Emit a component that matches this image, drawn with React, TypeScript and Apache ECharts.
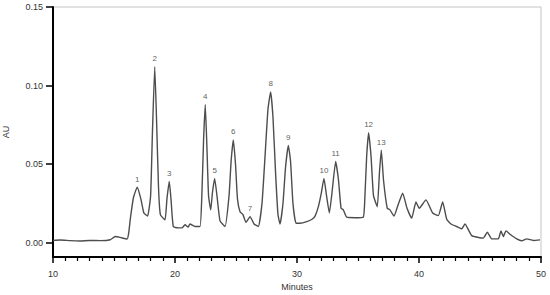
import React, { useEffect, useRef } from "react";
import * as echarts from "echarts";

// Retention time (minutes) and absorbance (AU) of the trace
const times: number[] = [
  10.0, 10.6, 11.4, 12.2, 13.0, 13.9, 14.7, 15.1, 15.5, 16.07, 16.2, 16.35, 16.6, 16.91, 17.2, 17.45, 17.75,
  18.0, 18.15, 18.34, 18.5, 18.65, 18.8, 19.18, 19.34, 19.53, 19.67, 19.86, 20.25, 20.57, 20.82, 21.07, 21.23,
  21.64, 22.05, 22.2, 22.34, 22.48, 22.62, 22.75, 22.93, 23.07, 23.25, 23.44, 23.69, 24.1, 24.43, 24.6, 24.78,
  24.96, 25.12, 25.33, 25.57, 25.82, 26.15, 26.48, 26.83, 27.13, 27.38, 27.62, 27.84, 28.03, 28.24, 28.44, 28.61,
  28.85, 29.06, 29.29, 29.47, 29.67, 29.92, 30.25, 30.8, 31.23, 31.48, 31.75, 32.0, 32.21, 32.42, 32.65, 32.87,
  33.17, 33.4, 33.61, 33.8, 34.07, 34.75, 35.43, 35.57, 35.71, 35.87, 36.07, 36.27, 36.58, 36.76, 36.91, 37.09,
  37.4, 37.62, 37.95, 38.28, 38.66, 39.02, 39.4, 39.75, 40.02, 40.57, 41.12, 41.58, 41.94, 42.27, 42.62, 43.09,
  43.5, 43.77, 44.32, 45.27, 45.6, 45.96, 46.5, 46.72, 46.91, 47.13, 47.46, 48.01, 48.42, 48.83, 49.37, 49.92,
];
const absorbance: number[] = [
  0.0015, 0.0018, 0.0014, 0.0012, 0.0015, 0.0014, 0.002, 0.004, 0.0035, 0.0024, 0.006, 0.016, 0.029, 0.0354, 0.028, 0.019, 0.017,
  0.03, 0.07, 0.112, 0.075, 0.035, 0.018, 0.0146, 0.028, 0.039, 0.028, 0.0104, 0.0095, 0.0095, 0.0115, 0.01, 0.012,
  0.0104, 0.0104, 0.03, 0.065, 0.088, 0.06, 0.03, 0.021, 0.032, 0.041, 0.03, 0.014, 0.0104, 0.03, 0.052, 0.0655,
  0.05, 0.028, 0.0198, 0.018, 0.013, 0.0167, 0.012, 0.0104, 0.025, 0.055, 0.085, 0.096, 0.08, 0.045, 0.018, 0.012,
  0.025, 0.048, 0.062, 0.052, 0.025, 0.0125, 0.0125, 0.0135, 0.015, 0.017, 0.023, 0.032, 0.041, 0.03, 0.019, 0.032,
  0.0517, 0.04, 0.022, 0.021, 0.0163, 0.016, 0.0163, 0.03, 0.055, 0.07, 0.055, 0.03, 0.023, 0.045, 0.059, 0.04,
  0.022, 0.021, 0.017, 0.024, 0.0316, 0.022, 0.0157, 0.026, 0.022, 0.0273, 0.019, 0.0173, 0.026, 0.015, 0.012, 0.0104,
  0.0089, 0.012, 0.0046, 0.003, 0.0068, 0.0025, 0.0025, 0.0076, 0.004, 0.0076, 0.0055, 0.0025, 0.0013, 0.0025, 0.0015, 0.0019,
];

// Numbered peaks
const peakNames: string[] = ["1", "2", "3", "4", "5", "6", "7", "8", "9", "10", "11", "12", "13"];
const peakTimes: number[] = [16.91, 18.34, 19.53, 22.48, 23.25, 24.78, 26.15, 27.84, 29.29, 32.21, 33.17, 35.87, 36.91];
const peakHeights: number[] = [0.0354, 0.112, 0.039, 0.088, 0.041, 0.0655, 0.0167, 0.096, 0.062, 0.041, 0.0517, 0.07, 0.059];

const yTickValues: number[] = [0, 0.05, 0.1, 0.15];

export default function App() {
  const ref = useRef<HTMLDivElement>(null);

  useEffect(() => {
    if (!ref.current) return;
    const chart = echarts.init(ref.current, null, { renderer: "svg" });
    const font = "Arial, 'Liberation Sans', sans-serif";
    chart.setOption({
      animation: false,
      backgroundColor: "#ffffff",
      grid: {
        left: 53,
        right: 9,
        top: 7,
        bottom: 38,
        outerBoundsMode: "none",
        containLabel: false,
        show: true,
        borderColor: "#c4c4c4",
        borderWidth: 1,
      },
      xAxis: {
        type: "value",
        min: 10,
        max: 50,
        interval: 10,
        name: "Minutes",
        nameLocation: "middle",
        nameGap: 25,
        nameTextStyle: { fontFamily: font, fontSize: 9, color: "#333" },
        axisLine: { show: true, onZero: false, lineStyle: { color: "#000", width: 2 } },
        axisTick: { show: true, length: 6, lineStyle: { color: "#000", width: 1.5 } },
        minorTick: { show: true, splitNumber: 10, length: 4, lineStyle: { color: "#000", width: 1.2 } },
        splitLine: { show: false },
        minorSplitLine: { show: false },
        axisLabel: { fontFamily: font, fontSize: 9, color: "#333", margin: 12 },
      },
      yAxis: {
        type: "value",
        min: -0.009,
        max: 0.15,
        name: "AU",
        nameLocation: "middle",
        nameGap: 43,
        nameRotate: 90,
        nameTextStyle: { fontFamily: font, fontSize: 9, color: "#333" },
        axisLine: { show: true, onZero: false, lineStyle: { color: "#000", width: 2 } },
        axisTick: { show: true, length: 7, customValues: yTickValues, lineStyle: { color: "#000", width: 1.5 } },
        splitLine: { show: false },
        axisLabel: {
          fontFamily: font,
          fontSize: 9,
          color: "#333",
          margin: 10,
          customValues: yTickValues,
          formatter: (v: number) => v.toFixed(2),
        },
      },
      series: [
        {
          type: "line",
          data: times.map((t, i) => [t, absorbance[i]]),
          showSymbol: false,
          smooth: 0.15,
          lineStyle: { color: "#4d4d4d", width: 1.4 },
          z: 3,
        },
        {
          type: "scatter",
          data: peakTimes.map((t, i) => ({ value: [t, peakHeights[i]], name: peakNames[i] })),
          symbolSize: 0,
          label: {
            show: true,
            position: "top",
            distance: 4,
            formatter: (p: any) => p.name,
            fontFamily: font,
            fontSize: 8,
            color: "#333",
          },
          z: 4,
        },
      ],
    });
    return () => chart.dispose();
  }, []);

  return <div ref={ref} style={{ position: "absolute", left: 0, top: 0, width: 550, height: 295 }} />;
}
